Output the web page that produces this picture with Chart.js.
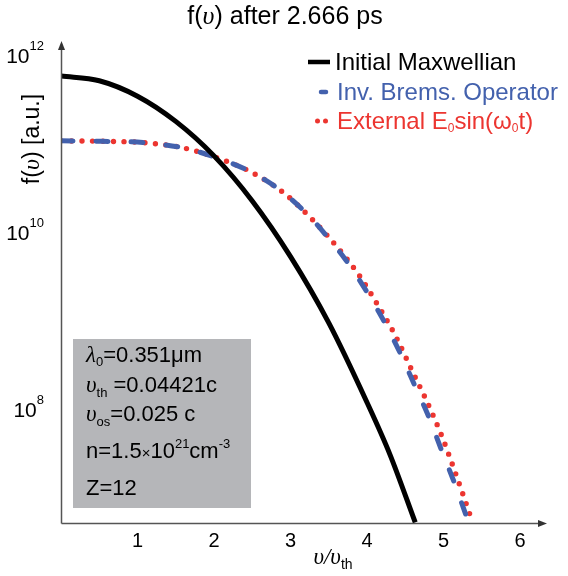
<!DOCTYPE html>
<html>
<head>
<meta charset="utf-8">
<script src="https://cdn.jsdelivr.net/npm/chart.js@4/dist/chart.umd.min.js"></script>
<style>
  html, body { margin: 0; padding: 0; background: #fff; }
  #wrap { width: 568px; height: 576px; }
</style>
</head>
<body>
<div id="wrap"><canvas id="fv" width="568" height="576"></canvas></div>
<script>
// velocity in units of v_th, f(v) in arbitrary units
const maxwellV = [0, 0.5, 1.0, 1.5, 2.0, 2.5, 3.0, 3.5, 4.0, 4.3, 4.63];
const maxwellF = [5.94e11, 5.25e11, 3.51e11, 1.82e11, 7.41e10, 2.29e10, 5.37e9, 9.55e8, 1.20e8, 3.09e7, 5.28e6];

const bremsV = [0, 0.54, 1.08, 1.60, 2.00, 2.48, 2.91, 3.30, 3.48, 3.72, 3.98, 4.21, 4.43, 4.63, 4.81, 4.98, 5.15, 5.29, 5.33];
const bremsF = [1.096e11, 1.084e11, 1.047e11, 9.12e10, 7.23e10, 4.89e10, 2.83e10, 1.37e10, 9.02e9, 4.95e9, 2.27e9, 1.04e9, 4.41e8, 1.82e8, 8.13e7, 3.35e7, 1.42e7, 6.52e6, 5.28e6];

const fieldV = [0, 0.54, 1.08, 1.60, 2.00, 2.48, 2.91, 3.30, 3.65, 3.90, 4.17, 4.37, 4.60, 4.77, 4.98, 5.12, 5.25, 5.38];
const fieldF = [1.096e11, 1.084e11, 1.047e11, 9.12e10, 7.23e10, 4.89e10, 2.83e10, 1.37e10, 6.27e9, 3.27e9, 1.38e9, 6.86e8, 2.62e8, 1.30e8, 4.95e7, 2.33e7, 1.12e7, 5.28e6];

const xTicks = [1, 2, 3, 4, 5, 6];
const yTickExps = [8, 10, 12];

const SANS = '"Liberation Sans", Arial, sans-serif';
const SERIF = '"Liberation Serif", "DejaVu Serif", serif';
const BLUE = '#4361ad';
const RED = '#ec3530';

function toPoints(xs, ys) {
  return xs.map((x, i) => ({ x: x, y: ys[i] }));
}

// draw a row of text pieces, each with its own font and vertical shift
function drawRuns(ctx, runs, x, y, align) {
  ctx.textBaseline = 'alphabetic';
  ctx.textAlign = 'left';
  let total = 0;
  runs.forEach(r => { ctx.font = r[1]; total += ctx.measureText(r[0]).width; });
  let cx = align === 'center' ? x - total / 2 : (align === 'right' ? x - total : x);
  runs.forEach(r => {
    ctx.font = r[1];
    ctx.fillStyle = r[3] || '#000';
    ctx.fillText(r[0], cx, y + (r[2] || 0));
    cx += ctx.measureText(r[0]).width;
  });
}

const decorations = {
  id: 'decorations',
  afterDraw(chart) {
    const ctx = chart.ctx;
    const xs = chart.scales.x, ys = chart.scales.y;
    const area = chart.chartArea;
    ctx.save();

    // axes with arrow heads
    const ax = Math.round(area.left) + 0.5, ay = Math.round(area.bottom) + 0.5;
    ctx.strokeStyle = '#555';
    ctx.fillStyle = '#333';
    ctx.lineWidth = 1.5;
    ctx.beginPath();
    ctx.moveTo(ax, ay);
    ctx.lineTo(ax, 48);
    ctx.moveTo(ax, ay);
    ctx.lineTo(540, ay);
    ctx.stroke();
    ctx.beginPath();
    ctx.moveTo(ax, 41); ctx.lineTo(ax - 3.5, 50); ctx.lineTo(ax + 3.5, 50); ctx.closePath();
    ctx.fill();
    ctx.beginPath();
    ctx.moveTo(547, ay); ctx.lineTo(538, ay - 3.5); ctx.lineTo(538, ay + 3.5); ctx.closePath();
    ctx.fill();

    // tick labels
    ctx.fillStyle = '#000';
    ctx.font = `20px ${SANS}`;
    ctx.textAlign = 'center';
    ctx.textBaseline = 'middle';
    xTicks.forEach(t => ctx.fillText(String(t), xs.getPixelForValue(t), 541));
    yTickExps.forEach(e => {
      const py = ys.getPixelForValue(Math.pow(10, e));
      drawRuns(ctx, [['10', `21px ${SANS}`, 0], [String(e), `13px ${SANS}`, -13]], 44, py + 7, 'right');
    });

    // title and axis titles
    drawRuns(ctx, [['f(', `25px ${SANS}`], ['υ', `italic 26px ${SERIF}`], [') after 2.666 ps', `25px ${SANS}`]], 285, 24, 'center');
    drawRuns(ctx, [['υ/υ', `italic 23px ${SERIF}`], ['th', `14px ${SANS}`, 5]], 333, 564, 'center');
    ctx.save();
    ctx.translate(39, 139);
    ctx.rotate(-Math.PI / 2);
    drawRuns(ctx, [['f(', `23px ${SANS}`], ['υ', `italic 24px ${SERIF}`], [') [a.u.]', `23px ${SANS}`]], 0, 0, 'center');
    ctx.restore();

    // legend
    ctx.lineCap = 'butt';
    ctx.strokeStyle = '#000';
    ctx.lineWidth = 4.5;
    ctx.beginPath(); ctx.moveTo(308, 62); ctx.lineTo(330, 62); ctx.stroke();
    ctx.lineCap = 'round';
    ctx.strokeStyle = BLUE;
    ctx.beginPath(); ctx.moveTo(321, 92); ctx.lineTo(326, 92); ctx.stroke();
    ctx.fillStyle = RED;
    [317.5, 325.5].forEach(px => { ctx.beginPath(); ctx.arc(px, 121, 2.5, 0, Math.PI * 2); ctx.fill(); });
    drawRuns(ctx, [['Initial Maxwellian', `24px ${SANS}`, 0, '#000']], 335, 70, 'left');
    drawRuns(ctx, [['Inv. Brems. Operator', `24px ${SANS}`, 0, BLUE]], 337, 100, 'left');
    drawRuns(ctx, [['External E', `24px ${SANS}`, 0, RED], ['0', `12px ${SANS}`, 3, RED],
                   ['sin(ω', `24px ${SANS}`, 0, RED], ['0', `12px ${SANS}`, 3, RED], ['t)', `24px ${SANS}`, 0, RED]], 337, 129, 'left');

    // parameter box
    ctx.fillStyle = '#b5b6b9';
    ctx.fillRect(73, 339, 178, 169);
    const f = `22px ${SANS}`, it = `italic 23px ${SERIF}`, sub = `13px ${SANS}`;
    drawRuns(ctx, [['λ', it], ['0', sub, 4], ['=0.351μm', f]], 86, 362, 'left');
    drawRuns(ctx, [['υ', it], ['th', sub, 5], [' =0.04421c', f]], 86, 392, 'left');
    drawRuns(ctx, [['υ', it], ['os', sub, 5], ['=0.025 c', f]], 86, 421, 'left');
    drawRuns(ctx, [['n=1.5', f], ['×', `15px ${SANS}`], ['10', f], ['21', sub, -10], ['cm', f], ['-3', sub, -10]], 86, 458, 'left');
    drawRuns(ctx, [['Z=12', f]], 86, 495, 'left');

    ctx.restore();
  }
};

new Chart(document.getElementById('fv'), {
  type: 'line',
  data: {
    datasets: [
      {
        label: 'Initial Maxwellian',
        data: toPoints(maxwellV, maxwellF),
        borderColor: '#000',
        borderWidth: 5,
        pointRadius: 0,
        cubicInterpolationMode: 'monotone'
      },
      {
        label: 'Inv. Brems. Operator',
        data: toPoints(bremsV, bremsF),
        borderColor: BLUE,
        borderWidth: 5,
        borderDash: [12, 23],
        borderCapStyle: 'round',
        pointRadius: 0,
        cubicInterpolationMode: 'monotone'
      },
      {
        label: 'External E0sin(w0t)',
        data: toPoints(fieldV, fieldF),
        borderColor: RED,
        borderWidth: 5.4,
        borderDash: [0, 10.5],
        borderCapStyle: 'round',
        pointRadius: 0,
        cubicInterpolationMode: 'monotone'
      }
    ]
  },
  options: {
    responsive: false,
    animation: false,
    events: [],
    layout: { padding: { left: 61, right: 25, top: 56, bottom: 53 } },
    plugins: { legend: { display: false }, title: { display: false }, tooltip: { enabled: false } },
    scales: {
      x: { type: 'linear', min: 0, max: 6.3, display: false },
      y: { type: 'logarithmic', min: 5.2e6, max: 1e12, display: false }
    }
  },
  plugins: [decorations]
});
</script>
</body>
</html>
